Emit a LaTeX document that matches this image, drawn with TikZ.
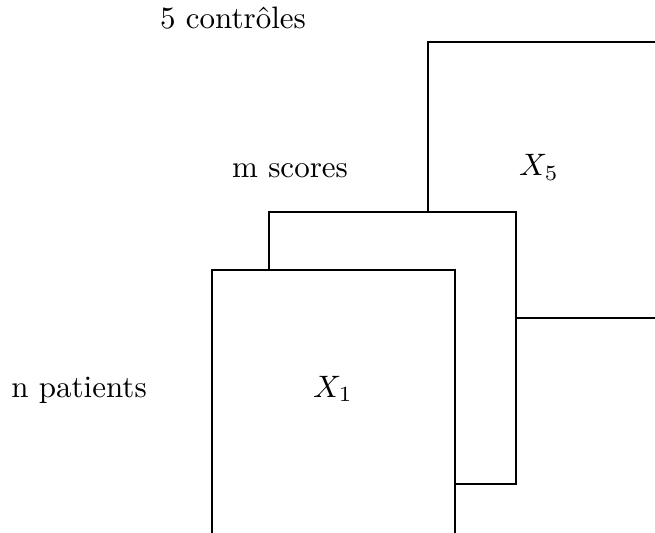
\documentclass[tikz,border=0pt]{standalone}
\begin{document}
\begin{tikzpicture}[x=0.3226pt,y=-0.3226pt,
  sheet/.style={draw=black,fill=white,line width=0.62pt},
  lbl/.style={inner sep=0pt,anchor=base,font=\normalsize}]
\useasboundingbox (0,0) rectangle (655,533);
\clip (0,0) rectangle (655,533);
% back sheet (X5)
\path[sheet] (428,42) rectangle (720,318);
% middle sheet
\path[sheet] (269,212) rectangle (516,484);
% front sheet (X1)
\path[sheet] (212,270) rectangle (455,600);
% labels
\node[lbl] (ctrl) at (233,29) {5 contrôles};
\node[lbl] (scores) at (290,178) {m scores};
\node[lbl] (pat) at (79,397) {n patients};
\node[lbl] (x5) at (539,176) {$X_5$};
\node[lbl] (x1) at (333,397) {$X_1$};
\end{tikzpicture}
\end{document}
